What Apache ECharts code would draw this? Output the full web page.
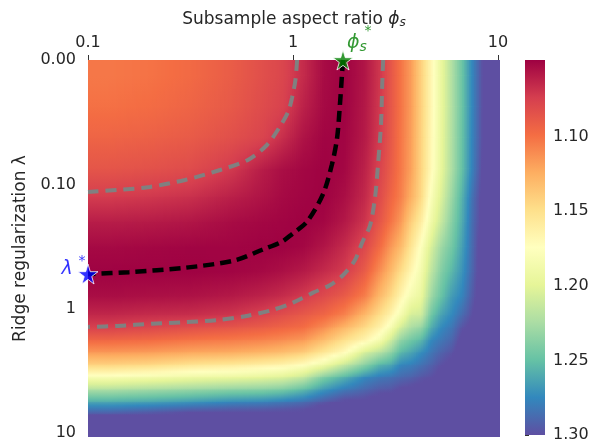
<!DOCTYPE html>
<html>
<head>
<meta charset="utf-8">
<script src="https://cdn.jsdelivr.net/npm/echarts@6/dist/echarts.min.js"></script>
<style>
  html, body { margin: 0; padding: 0; background: #fff; }
  #chart { width: 596px; height: 443px; }
</style>
</head>
<body>
<div id="chart"></div>
<script>
  // x axis: log10(phi_s) + 1  (0 -> 0.1, 1 -> 1, 2 -> 10)
  // y axis: position of the lambda ticks (0 -> 0.00, 1 -> 0.10, 2 -> 1, 3 -> 10)
  const xTickLabels = ['0.1', '1', '10'];
  const yTickLabels = ['0.00', '0.10', '1', '10'];
  const colorbarTicks = [1.10, 1.15, 1.20, 1.25, 1.30];
  const riskMin = 1.0487, riskMax = 1.30;

  // cell edges of the risk grid, in axis units
  const xEdges = [0, 0.2, 0.4, 0.6, 0.8, 0.9, 1.0, 1.1, 1.2, 1.3, 1.4, 1.45, 1.5, 1.55, 1.6, 1.65, 1.7, 1.75, 1.8, 1.85, 1.9, 1.95, 2.01];
  const yEdges = [0, 0.25, 0.5, 0.75, 1.0, 1.2, 1.4, 1.6, 1.8, 2.0, 2.1, 2.2, 2.3, 2.4, 2.5, 2.6, 2.7, 2.8, 2.9, 3.03];

  // risk values at the cell centres, one row per y cell (top to bottom)
  const risk = [
    [1.103, 1.101, 1.097, 1.090, 1.083, 1.078, 1.066, 1.053, 1.049, 1.057, 1.071, 1.086, 1.101, 1.117, 1.141, 1.168, 1.196, 1.222, 1.248, 1.276, 1.300, 1.330],
    [1.100, 1.098, 1.094, 1.088, 1.081, 1.076, 1.062, 1.052, 1.049, 1.058, 1.072, 1.086, 1.101, 1.117, 1.141, 1.168, 1.196, 1.222, 1.248, 1.276, 1.300, 1.330],
    [1.094, 1.092, 1.089, 1.083, 1.077, 1.067, 1.056, 1.050, 1.050, 1.059, 1.073, 1.087, 1.102, 1.118, 1.142, 1.169, 1.197, 1.223, 1.249, 1.277, 1.300, 1.330],
    [1.086, 1.084, 1.081, 1.072, 1.060, 1.054, 1.051, 1.049, 1.051, 1.062, 1.077, 1.089, 1.103, 1.119, 1.143, 1.170, 1.198, 1.224, 1.250, 1.278, 1.302, 1.330],
    [1.073, 1.071, 1.068, 1.061, 1.056, 1.052, 1.050, 1.049, 1.054, 1.065, 1.081, 1.094, 1.106, 1.125, 1.146, 1.180, 1.205, 1.231, 1.257, 1.285, 1.305, 1.330],
    [1.060, 1.059, 1.057, 1.053, 1.051, 1.050, 1.049, 1.051, 1.058, 1.070, 1.087, 1.101, 1.116, 1.140, 1.160, 1.190, 1.214, 1.238, 1.260, 1.287, 1.305, 1.330],
    [1.052, 1.051, 1.050, 1.050, 1.049, 1.049, 1.051, 1.057, 1.066, 1.079, 1.098, 1.115, 1.130, 1.153, 1.177, 1.206, 1.230, 1.245, 1.265, 1.288, 1.310, 1.330],
    [1.049, 1.049, 1.049, 1.050, 1.052, 1.055, 1.059, 1.066, 1.073, 1.090, 1.113, 1.129, 1.148, 1.167, 1.186, 1.217, 1.240, 1.255, 1.270, 1.290, 1.310, 1.330],
    [1.054, 1.055, 1.056, 1.059, 1.063, 1.067, 1.073, 1.081, 1.090, 1.106, 1.131, 1.146, 1.166, 1.185, 1.195, 1.230, 1.250, 1.267, 1.277, 1.295, 1.310, 1.330],
    [1.065, 1.067, 1.068, 1.071, 1.077, 1.083, 1.089, 1.096, 1.108, 1.130, 1.150, 1.165, 1.185, 1.208, 1.210, 1.247, 1.265, 1.275, 1.288, 1.300, 1.315, 1.330],
    [1.076, 1.079, 1.083, 1.087, 1.091, 1.095, 1.099, 1.112, 1.129, 1.147, 1.165, 1.183, 1.209, 1.225, 1.233, 1.260, 1.275, 1.283, 1.298, 1.305, 1.315, 1.330],
    [1.096, 1.098, 1.102, 1.105, 1.108, 1.112, 1.117, 1.132, 1.150, 1.167, 1.186, 1.209, 1.235, 1.246, 1.255, 1.275, 1.283, 1.290, 1.305, 1.310, 1.320, 1.330],
    [1.117, 1.119, 1.123, 1.125, 1.129, 1.133, 1.140, 1.156, 1.173, 1.207, 1.222, 1.235, 1.255, 1.263, 1.273, 1.283, 1.292, 1.298, 1.310, 1.315, 1.320, 1.330],
    [1.144, 1.147, 1.154, 1.158, 1.163, 1.167, 1.175, 1.191, 1.215, 1.238, 1.257, 1.262, 1.276, 1.279, 1.285, 1.292, 1.300, 1.305, 1.315, 1.320, 1.325, 1.330],
    [1.183, 1.188, 1.193, 1.196, 1.200, 1.204, 1.215, 1.242, 1.258, 1.275, 1.282, 1.285, 1.289, 1.292, 1.297, 1.300, 1.305, 1.310, 1.320, 1.320, 1.325, 1.330],
    [1.225, 1.229, 1.233, 1.238, 1.240, 1.244, 1.254, 1.270, 1.282, 1.290, 1.296, 1.297, 1.303, 1.305, 1.305, 1.310, 1.310, 1.315, 1.320, 1.325, 1.330, 1.330],
    [1.263, 1.266, 1.271, 1.277, 1.279, 1.283, 1.288, 1.297, 1.305, 1.305, 1.310, 1.310, 1.310, 1.310, 1.310, 1.315, 1.315, 1.320, 1.325, 1.330, 1.330, 1.330],
    [1.300, 1.305, 1.310, 1.310, 1.310, 1.310, 1.310, 1.315, 1.320, 1.320, 1.320, 1.320, 1.320, 1.320, 1.320, 1.320, 1.320, 1.325, 1.330, 1.330, 1.330, 1.330],
    [1.330, 1.330, 1.330, 1.330, 1.330, 1.330, 1.330, 1.330, 1.330, 1.330, 1.330, 1.330, 1.330, 1.330, 1.330, 1.330, 1.330, 1.330, 1.330, 1.330, 1.330, 1.330]
  ];

  // contour paths [x, y] in axis units
  const optimalPath = [[1.244, 0], [1.239, 0.12], [1.229, 0.36], [1.215, 0.63], [1.19, 0.84], [1.146, 1.08],
    [1.068, 1.30], [0.995, 1.40], [0.946, 1.46], [0.85, 1.525], [0.717, 1.61], [0.473, 1.67], [0.2, 1.705], [0.0, 1.72]];
  const grayUpper = [[1.02, 0], [1.012, 0.16], [0.995, 0.306], [0.976, 0.418], [0.932, 0.546], [0.873, 0.683],
    [0.78, 0.803], [0.644, 0.884], [0.473, 0.964], [0.302, 1.02], [0.146, 1.044], [0, 1.06]];
  const grayLower = [[1.44, 0], [1.435, 0.22], [1.43, 0.5], [1.415, 0.84], [1.40, 1.11], [1.376, 1.33], [1.337, 1.47],
    [1.302, 1.61], [1.244, 1.73], [1.18, 1.81], [1.098, 1.87], [1.0, 1.95], [0.898, 2.01], [0.766, 2.06],
    [0.634, 2.09], [0.473, 2.107], [0.312, 2.12], [0.146, 2.137], [0, 2.145]];
  const phiStar = [1.244, 0];
  const lambdaStar = [0, 1.72];

  const spectral = ['#9e0142', '#d53e4f', '#f46d43', '#fdae61', '#fee08b', '#ffffbf',
                    '#e6f598', '#abdda4', '#66c2a5', '#3288bd', '#5e4fa2'];
  const textColor = '#262626';
  const font = 'DejaVu Sans';
  const starPath = 'path://M50,0 L61,35 L98,35 L68,57 L79,91 L50,70 L21,91 L32,57 L2,35 L39,35 Z';

  function cellColor(v) {
    let t = (v - riskMin) / (riskMax - riskMin);
    t = Math.max(0, Math.min(1, t));
    return echarts.color.lerp(t, spectral);
  }

  // gouraud-style shading: quads between cell centres (edges padded with the border cells)
  function centres(edges) {
    let c = [edges[0]];
    for (let i = 0; i < edges.length - 1; i++) c.push((edges[i] + edges[i + 1]) / 2);
    c.push(edges[edges.length - 1]);
    return c;
  }
  const xNodes = centres(xEdges), yNodes = centres(yEdges);
  function nodeValue(i, j) {
    const r = Math.max(0, Math.min(risk.length - 1, i - 1));
    const c = Math.max(0, Math.min(risk[0].length - 1, j - 1));
    return risk[r][c];
  }
  let quads = [];
  for (let i = 0; i < yNodes.length - 1; i++) {
    for (let j = 0; j < xNodes.length - 1; j++) {
      if (xNodes[j + 1] - xNodes[j] <= 0 || yNodes[i + 1] - yNodes[i] <= 0) continue;
      quads.push([xNodes[j], xNodes[j + 1], yNodes[i], yNodes[i + 1],
        nodeValue(i, j), nodeValue(i, j + 1), nodeValue(i + 1, j), nodeValue(i + 1, j + 1)]);
    }
  }

  let myChart = echarts.init(document.getElementById('chart'));
  myChart.setOption({
    animation: false,
    backgroundColor: '#fff',
    textStyle: { fontFamily: font },
    grid: [
      { left: 88, top: 60, width: 412, height: 377 },
      { left: 525, top: 60, width: 20, height: 377 }
    ],
    xAxis: [
      {
        type: 'value', gridIndex: 0, position: 'top', min: 0, max: 2.01,
        name: 'Subsample aspect ratio {i|ϕ}{s|s}', nameLocation: 'middle', nameGap: 31,
        nameTextStyle: {
          fontSize: 17, color: textColor, fontFamily: font,
          rich: {
            i: { fontSize: 17, fontStyle: 'italic', color: textColor, fontFamily: font },
            s: { fontSize: 12, fontStyle: 'italic', color: textColor, fontFamily: font, verticalAlign: 'bottom', padding: [6, 0, 0, 0] }
          }
        },
        axisLine: { show: false },
        splitLine: { show: false },
        axisTick: { show: true, length: 5, customValues: [0, 1, 2], lineStyle: { color: '#333', width: 1 } },
        axisLabel: {
          customValues: [0, 1, 2], margin: 9, fontSize: 16, color: textColor,
          formatter: function (v) { return xTickLabels[Math.round(v)]; }
        }
      },
      { type: 'value', gridIndex: 1, min: 0, max: 1, show: false }
    ],
    yAxis: [
      {
        type: 'value', gridIndex: 0, min: 0, max: 3.03, inverse: true,
        name: 'Ridge regularization λ', nameLocation: 'middle', nameGap: 56,
        nameTextStyle: { fontSize: 17, color: textColor, fontFamily: font },
        axisLine: { show: false },
        splitLine: { show: false },
        axisTick: { show: false },
        axisLabel: {
          customValues: [0, 1, 2, 3], margin: 12, fontSize: 16, color: textColor,
          formatter: function (v) { return yTickLabels[Math.round(v)]; }
        }
      },
      {
        type: 'value', gridIndex: 1, min: riskMin, max: riskMax, inverse: true, position: 'right',
        axisLine: { show: false },
        splitLine: { show: false },
        axisTick: { show: true, length: 4, customValues: colorbarTicks, lineStyle: { color: '#333' } },
        axisLabel: {
          customValues: colorbarTicks, margin: 8, fontSize: 16, color: textColor,
          formatter: function (v) { return v.toFixed(2); }
        }
      }
    ],
    series: [
      {
        type: 'custom',
        xAxisIndex: 0, yAxisIndex: 0,
        clip: true,
        data: quads,
        encode: { x: [0, 1], y: [2, 3] },
        renderItem: function (params, api) {
          const p0 = api.coord([api.value(0), api.value(2)]);
          const p1 = api.coord([api.value(1), api.value(3)]);
          const v00 = api.value(4), v10 = api.value(5), v01 = api.value(6), v11 = api.value(7);
          const left = Math.min(p0[0], p1[0]), top = Math.min(p0[1], p1[1]);
          const w = Math.abs(p1[0] - p0[0]), h = Math.abs(p1[1] - p0[1]);
          const n = Math.max(1, Math.ceil(w / 2));
          let children = [];
          for (let k = 0; k < n; k++) {
            const t = (k + 0.5) / n;
            const vt = v00 + (v10 - v00) * t;
            const vb = v01 + (v11 - v01) * t;
            const stops = [0, 0.25, 0.5, 0.75, 1].map(function (s) {
              return { offset: s, color: cellColor(vt + (vb - vt) * s) };
            });
            children.push({
              type: 'rect',
              shape: { x: left + k * w / n, y: top, width: w / n + 1.5, height: h + 1.5 },
              style: { fill: new echarts.graphic.LinearGradient(0, 0, 0, 1, stops) }
            });
          }
          return { type: 'group', children: children };
        },
        silent: true
      },
      {
        type: 'custom',
        xAxisIndex: 1, yAxisIndex: 1,
        data: [[0, 1, riskMin, riskMax]],
        renderItem: function (params, api) {
          const p0 = api.coord([api.value(0), api.value(2)]);
          const p1 = api.coord([api.value(1), api.value(3)]);
          const stops = spectral.map(function (c, i) { return { offset: i / (spectral.length - 1), color: c }; });
          return {
            type: 'rect',
            shape: { x: p0[0], y: p0[1], width: p1[0] - p0[0], height: p1[1] - p0[1] },
            style: { fill: new echarts.graphic.LinearGradient(0, 0, 0, 1, stops) }
          };
        },
        silent: true
      },
      {
        type: 'line', xAxisIndex: 0, yAxisIndex: 0, data: grayUpper, smooth: 0.3, z: 5,
        symbol: 'none', lineStyle: { color: '#808080', width: 4, type: [11, 7] }, silent: true
      },
      {
        type: 'line', xAxisIndex: 0, yAxisIndex: 0, data: grayLower, smooth: 0.3, z: 5,
        symbol: 'none', lineStyle: { color: '#808080', width: 4, type: [11, 7] }, silent: true
      },
      {
        type: 'line', xAxisIndex: 0, yAxisIndex: 0, data: optimalPath, smooth: 0.3, z: 5,
        symbol: 'none', lineStyle: { color: '#000', width: 4.5, type: [11, 6] }, silent: true
      },
      {
        type: 'scatter', xAxisIndex: 0, yAxisIndex: 0, clip: false, z: 10,
        data: [phiStar], symbol: starPath, symbolSize: 20,
        itemStyle: { color: '#008000', borderColor: '#fff', borderWidth: 1 },
        label: {
          show: true, position: 'inside', offset: [14, -17],
          formatter: '{p|ϕ}{s|s}',
          rich: {
            p: { fontSize: 19, fontStyle: 'italic', color: '#008000', fontFamily: font },
            s: { fontSize: 14, fontStyle: 'italic', color: '#008000', fontFamily: font, verticalAlign: 'bottom', padding: [8, 0, 0, 0] }
          }
        }
      },
      {
        type: 'scatter', xAxisIndex: 0, yAxisIndex: 0, clip: false, z: 10,
        data: [phiStar], symbol: 'circle', symbolSize: 2, itemStyle: { color: 'rgba(0,0,0,0)' },
        label: { show: true, position: 'inside', offset: [25, -29], formatter: '*', fontSize: 14, color: '#008000' }
      },
      {
        type: 'scatter', xAxisIndex: 0, yAxisIndex: 0, clip: false, z: 10,
        data: [lambdaStar], symbol: starPath, symbolSize: 20,
        itemStyle: { color: '#0000ff', borderColor: '#fff', borderWidth: 1 },
        label: {
          show: true, position: 'inside', offset: [-21, -5], formatter: 'λ',
          fontSize: 19, fontStyle: 'italic', color: '#0000ff'
        }
      },
      {
        type: 'scatter', xAxisIndex: 0, yAxisIndex: 0, clip: false, z: 10,
        data: [lambdaStar], symbol: 'circle', symbolSize: 2, itemStyle: { color: 'rgba(0,0,0,0)' },
        label: { show: true, position: 'inside', offset: [-6, -13], formatter: '*', fontSize: 14, color: '#0000ff' }
      }
    ]
  });
</script>
</body>
</html>
